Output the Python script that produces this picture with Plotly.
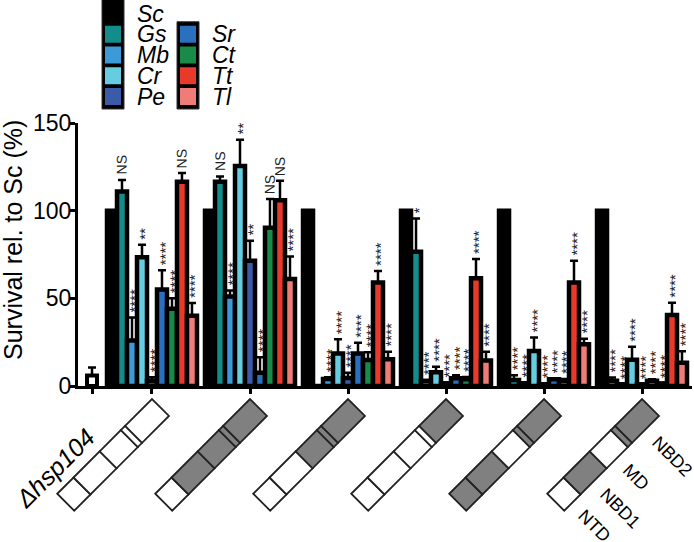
import math
import plotly.graph_objects as go

# ---------------- data ----------------
species = ["Sc", "Gs", "Mb", "Cr", "Pe", "Sr", "Ct", "Tt", "Tl"]
colors = ["#000000", "#148c8c", "#3d9ad9", "#66cde0", "#3b5ba8",
          "#2b6fbf", "#1a8a48", "#e83a2a", "#f07c78"]

# survival (%) for the 6 chimera constructs
sc = [100, 100, 100, 100, 100, 100]
gs = [111, 116.5, 0, 76.5, 3.4, 3]
mb = [26, 51, 4, 2.9, 1.5, 1]
cr = [73.5, 125.5, 18.6, 7.8, 20, 15]
pe = [3, 71.5, 4.5, 1.5, 1, 1]
sr = [55, 7.6, 18.6, 4.4, 3.8, 3]
ct = [44, 90.3, 14.8, 3.8, 3, 1.5]
tt = [116.5, 106, 59, 61.4, 59, 40.5]
tl = [40, 61, 15.2, 14.5, 23.8, 13.3]

sc_err = [0, 0, 0, 0, 0, 0]
gs_err = [6.5, 3, 0, 19, 2.7, 1.8]
mb_err = [13, 3.4, 1, 0.5, 0.5, 0]
cr_err = [7, 15, 8, 3.2, 7.7, 7.4]
pe_err = [2, 11.4, 3, 0.5, 0.5, 0]
sr_err = [11, 8.8, 6, 1.8, 0.5, 0.8]
ct_err = [6, 16.4, 4.4, 1.3, 1, 0]
tt_err = [5, 11, 6.6, 11, 12.5, 7]
tl_err = [7.3, 12.8, 4.4, 5, 3.2, 6.5]

sc_sig = ["", "", "", "", "", ""]
gs_sig = ["NS", "NS", "", "*", "****", "****"]
mb_sig = ["****", "****", "****", "****", "****", "****"]
cr_sig = ["**", "**", "****", "****", "****", "****"]
pe_sig = ["****", "**", "****", "****", "****", "****"]
sr_sig = ["****", "****", "****", "****", "****", "****"]
ct_sig = ["****", "NS", "****", "****", "****", "****"]
tt_sig = ["NS", "NS", "****", "****", "****", "****"]
tl_sig = ["****", "****", "****", "****", "****", "****"]

all_vals = [sc, gs, mb, cr, pe, sr, ct, tt, tl]
all_errs = [sc_err, gs_err, mb_err, cr_err, pe_err, sr_err, ct_err, tt_err, tl_err]
all_sigs = [sc_sig, gs_sig, mb_sig, cr_sig, pe_sig, sr_sig, ct_sig, tt_sig, tl_sig]

dhsp_label = "Δhsp104"
dhsp_val = [6]
dhsp_err = [4.5]

# domain architecture of each construct (1 = grey/ortholog, 0 = white)
domain_names = ["NTD", "NBD1", "MD", "link", "NBD2"]
domain_len = [23, 37, 30, 6, 38]
domain_labels = ["NTD", "NBD1", "MD", "NBD2"]
construct_domains = [
    [0, 0, 0, 0, 0],
    [0, 1, 1, 1, 1],
    [0, 0, 1, 1, 1],
    [0, 0, 0, 0, 1],
    [1, 1, 0, 1, 1],
    [0, 1, 0, 1, 1],
]

# ---------------- layout geometry ----------------
FW, FH = 694, 542
ML, MR, MT, MB = 78, 2, 123, 156
PW, PH = FW - ML - MR, FH - MT - MB
XR = [0.245, 6.51]
YR = [0, 150]
group_pos = [1, 2, 3, 4, 5, 6]
dhsp_pos = 0.388
BW = 0.102
FONT = "Arial, Liberation Sans, sans-serif"


def xpx(x):
    return ML + (x - XR[0]) / (XR[1] - XR[0]) * PW


def to_paper(px, py):
    return ((px - ML) / PW, (FH - MB - py) / PH)


fig = go.Figure()

# Δhsp104 bar
fig.add_trace(go.Bar(
    x=[dhsp_pos], y=dhsp_val, width=BW,
    marker=dict(color="white", line=dict(color="black", width=4)),
    error_y=dict(type="data", array=dhsp_err, arrayminus=[0], symmetric=False,
                 color="black", thickness=2.5, width=4),
    showlegend=False, hoverinfo="skip"))

annotations = []
for i, sp in enumerate(species):
    xs = [g + (i - 4) * BW for g in group_pos]
    fig.add_trace(go.Bar(
        x=xs, y=all_vals[i], width=BW, name=sp,
        marker=dict(color=colors[i], line=dict(color="black", width=4.5)),
        error_y=dict(type="data", array=all_errs[i], arrayminus=[0] * 6,
                     symmetric=False, color="black", thickness=2.5, width=4,
                     visible=any(e > 0 for e in all_errs[i])),
        showlegend=False))
    for j, lab in enumerate(all_sigs[i]):
        if lab:
            star = "*" in lab
            annotations.append(dict(
                x=xs[j], y=all_vals[i][j] + all_errs[i][j], xref="x", yref="y",
                text=lab, textangle=-89.6, showarrow=False, xanchor="center",
                yanchor="bottom", yshift=3, xshift=(3 if star else 0),
                font=dict(size=15 if star else 14, color="#222", family=FONT)))

# y-axis title
tx, ty = to_paper(13, 240)
annotations.append(dict(x=tx, y=ty, xref="paper", yref="paper",
                        text="Survival rel. to Sc (%)", textangle=-90,
                        showarrow=False, xanchor="center", yanchor="middle",
                        font=dict(size=25, color="black", family=FONT)))

# Δhsp104 label
lx, ly = to_paper(55, 468)
annotations.append(dict(x=lx, y=ly, xref="paper", yref="paper",
                        text=dhsp_label, textangle=-45,
                        showarrow=False, xanchor="center", yanchor="middle",
                        font=dict(size=25, color="black", family=FONT,
                                  style="italic")))

shapes = []

# ---------------- legend (drawn) ----------------
PITCH = 20.75
SW_TOP0 = 5
SW_H, SW_W = 17, 16
col_x = [105, 180]
text_x = [135, 210]
rows = [(0, 0), (0, 1), (0, 2), (0, 3), (0, 4), (1, 1), (1, 2), (1, 3), (1, 4)]
for c in (0, 1):
    r_in = [r for (cc, r) in rows if cc == c]
    top = SW_TOP0 + PITCH * min(r_in) - 4
    if c == 0:
        top = -3
    bot = SW_TOP0 + PITCH * max(r_in) + SW_H + 4
    x0, y0 = to_paper(col_x[c] - 3, top)
    x1, y1 = to_paper(col_x[c] + SW_W + 3, bot)
    shapes.append(dict(type="rect", xref="paper", yref="paper", x0=x0, x1=x1,
                       y0=y0, y1=y1, fillcolor="black", line=dict(width=1, color="#333")))
for k, sp in enumerate(species):
    c, r = rows[k]
    top = SW_TOP0 + PITCH * r
    x0, y0 = to_paper(col_x[c], top)
    x1, y1 = to_paper(col_x[c] + SW_W, top + SW_H)
    shapes.append(dict(type="rect", xref="paper", yref="paper", x0=x0, x1=x1,
                       y0=y0, y1=y1, fillcolor=colors[k], line=dict(width=0)))
    ax, ay = to_paper(text_x[c], top + SW_H / 2)
    annotations.append(dict(x=ax, y=ay, xref="paper", yref="paper",
                            text=sp, showarrow=False,
                            xanchor="left", yanchor="middle",
                            font=dict(size=23, color="black", family=FONT,
                                      style="italic")))

# ---------------- domain diagrams ----------------
L = sum(domain_len)
WD = 24
u = (1 / math.sqrt(2), -1 / math.sqrt(2))
v = (1 / math.sqrt(2), 1 / math.sqrt(2))
TOP_Y = 399


def seg_poly(ax_, ay_, t0, t1):
    p = []
    for (t, w) in [(t0, 0), (t1, 0), (t1, WD), (t0, WD)]:
        px = ax_ - (L - t) * u[0] + w * v[0]
        py = ay_ - (L - t) * u[1] + w * v[1]
        p.append(to_paper(px, py))
    return "M " + " L ".join("%.5f %.5f" % q for q in p) + " Z"


for j, g in enumerate(group_pos):
    axp = xpx(g)
    t = 0
    for k, ln in enumerate(domain_len):
        shade = construct_domains[j][k]
        shapes.append(dict(type="path", xref="paper", yref="paper",
                           path=seg_poly(axp, TOP_Y, t, t + ln),
                           fillcolor="#808080" if shade else "white",
                           line=dict(color="#222", width=1.8)))
        t += ln

# domain labels next to last diagram
axp = xpx(group_pos[-1])
starts = []
t = 0
for ln in domain_len:
    starts.append((t, t + ln))
    t += ln
for name in domain_labels:
    k = domain_names.index(name)
    tm = (starts[k][0] + starts[k][1]) / 2
    ex = axp - (L - tm) * u[0] + WD * v[0]
    ey = TOP_Y - (L - tm) * u[1] + WD * v[1]
    half = 0.6 * 18 * len(name) / 2
    d = 11 + half
    cx, cy = to_paper(ex + d * v[0] + 3, ey + d * v[1] + 4)
    annotations.append(dict(x=cx, y=cy, xref="paper", yref="paper", text=name,
                            textangle=45, showarrow=False, xanchor="center",
                            yanchor="middle",
                            font=dict(size=18, color="black", family=FONT)))

fig.update_layout(
    width=FW, height=FH,
    margin=dict(l=ML, r=MR, t=MT, b=MB, pad=0),
    paper_bgcolor="white", plot_bgcolor="white",
    barmode="overlay",
    font=dict(family=FONT, color="black"),
    showlegend=False,
    xaxis=dict(range=XR, tickvals=[dhsp_pos] + group_pos, showticklabels=False,
               ticks="outside", ticklen=5, tickwidth=3, tickcolor="black",
               showline=True, linewidth=3, linecolor="black", showgrid=False,
               zeroline=False, fixedrange=True),
    yaxis=dict(range=YR, tickvals=[0, 50, 100, 150], ticks="outside", ticklen=5,
               tickwidth=3, tickcolor="black", showline=True, linewidth=3,
               linecolor="black", showgrid=False, zeroline=False,
               ticklabelstandoff=-6,
               tickfont=dict(size=23, color="black", family=FONT)),
    shapes=shapes,
    annotations=annotations,
)

fig.write_html("out.html", config={"displayModeBar": False},
               post_script="document.body.style.margin='0';document.body.style.padding='0';")
